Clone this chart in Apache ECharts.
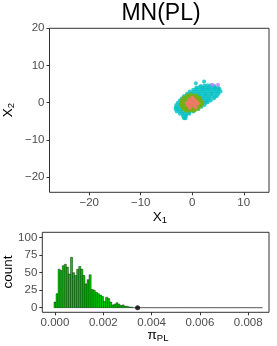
<!DOCTYPE html>
<html><head><meta charset="utf-8">
<script src="https://cdn.jsdelivr.net/npm/echarts@6/dist/echarts.min.js"></script>
<style>html,body{margin:0;padding:0;background:#fff}#c{width:277px;height:346px}</style>
</head><body><div id="c"></div>
<script>
// ---- scatter data (X1, X2) ----
const cyanPts = [
[2.3,5.7],[0.7,5.2],
[1.7,4.5],[2.4,4.6],[3.0,4.7],[3.6,4.7],[4.3,4.5],
[0.8,4.1],[1.4,4.2],[2.0,4.0],[2.6,4.1],[3.2,4.0],[3.8,4.1],[4.4,4.0],[5.0,4.1],
[0.2,3.5],[0.8,3.6],[1.4,3.5],[2.0,3.6],[2.6,3.5],[3.2,3.6],[3.8,3.5],[4.4,3.6],[5.0,3.5],[5.3,3.7],
[-0.5,3.0],[0.1,2.9],[0.7,3.0],[1.3,2.9],[1.9,3.0],[2.5,2.9],[3.1,3.0],[3.7,2.9],[4.3,3.0],[4.9,2.9],[5.5,3.0],
[-1.0,2.4],[-0.4,2.4],[0.2,2.3],[0.8,2.4],[1.4,2.3],[2.0,2.4],[2.6,2.3],[3.2,2.4],[3.8,2.3],[4.4,2.4],[5.1,2.4],
[-1.6,1.8],[-1.0,1.8],[-0.4,1.7],[0.2,1.8],[0.8,1.7],[1.4,1.8],[2.0,1.7],[2.6,1.8],[3.2,1.7],[3.8,1.8],[4.4,1.6],[4.8,1.8],
[-2.0,1.2],[-1.4,1.2],[-0.8,1.1],[-0.2,1.2],[0.4,1.1],[1.0,1.2],[1.6,1.1],[2.2,1.2],[2.8,1.1],[3.4,1.2],[4.2,1.1],
[-2.4,0.6],[-1.8,0.6],[-1.2,0.5],[-0.6,0.6],[0.0,0.5],[0.6,0.6],[1.2,0.5],[1.8,0.6],[2.4,0.5],[3.0,0.6],[3.6,0.6],
[-2.8,0.0],[-2.2,0.0],[-1.6,-0.1],[-1.0,0.0],[-0.4,-0.1],[0.2,0.0],[0.8,-0.1],[1.4,0.0],[2.0,-0.1],[2.6,0.0],[3.0,0.1],
[-3.1,-0.6],[-2.5,-0.6],[-1.9,-0.7],[-1.3,-0.6],[-0.7,-0.7],[-0.1,-0.6],[0.5,-0.7],[1.1,-0.6],[1.7,-0.7],[2.4,-0.6],
[-3.2,-1.2],[-2.6,-1.2],[-2.0,-1.3],[-1.4,-1.2],[-0.8,-1.3],[-0.2,-1.2],[0.4,-1.3],[1.0,-1.2],[1.8,-1.1],
[-3.2,-1.8],[-2.6,-1.8],[-2.0,-1.9],[-1.4,-1.8],[-0.8,-1.9],[-0.2,-1.8],[0.4,-1.9],[1.2,-1.7],
[-3.0,-2.4],[-2.4,-2.4],[-1.8,-2.5],[-1.2,-2.4],[-0.6,-2.5],[0.2,-2.4],
[-2.4,-3.0],[-1.8,-3.0],[-1.2,-3.1],[-0.6,-3.0],
[-1.8,-3.6],[-1.2,-3.6],
[-1.6,-4.2],[-1.3,-4.2]
];
const greenPts = [
[-1.0,2.0],[-0.4,2.1],[0.2,2.0],[0.8,1.9],
[-1.6,1.4],[-1.0,1.4],[-0.4,1.4],[0.2,1.4],[0.8,1.4],[1.4,1.3],
[-2.0,0.8],[-1.4,0.8],[-0.8,0.8],[-0.2,0.8],[0.4,0.8],[1.0,0.8],[1.6,0.8],
[-2.1,0.2],[-1.5,0.2],[-0.9,0.2],[-0.3,0.2],[0.3,0.2],[0.9,0.2],[1.5,0.2],[2.0,0.2],
[-2.2,-0.4],[-1.6,-0.4],[-1.0,-0.4],[-0.4,-0.4],[0.2,-0.4],[0.8,-0.4],[1.4,-0.4],[1.9,-0.4],
[-2.0,-1.0],[-1.4,-1.0],[-0.8,-1.0],[-0.2,-1.0],[0.4,-1.0],[1.0,-1.0],[1.6,-1.0],
[-1.8,-1.6],[-1.2,-1.6],[-0.6,-1.6],[0.0,-1.6],[0.6,-1.6],[1.1,-1.6],
[-1.2,-2.2],[-0.6,-2.2],[0.0,-2.2],[0.5,-2.1]
];
const salmonPts = [
[0.0,1.4],[0.2,0.9],[-0.6,0.8],[0.6,0.6],[-0.4,0.3],[0.2,0.2],[0.9,0.1],[-1.1,0.0],
[-0.6,-0.2],[0.0,-0.4],[0.6,-0.3],[1.1,-0.2],[-0.3,-0.9],[0.4,-0.9],[-0.9,-0.7],[0.7,-1.3],[-0.5,-1.4]
];
const purplePts = [[3.9,4.8],[5.0,4.8]];

// ---- histogram of pi_PL ----
const binWidth = 0.0000855;
const nBins = 101;
const binCounts = [8,20,55,53,60,62,58,48,72,50,46,55,59,55,46,34,40,47,26,25,22,20,18,16,9,15,13,8,4,5,7,5,3,4,2,2,1,1];
const truePoint = [[0.00342, 0]];

// ---- ticks ----
const xTicksTop = [-20,-10,0,10];
const yTicksTop = [-20,-10,0,10,20];
const xTicksBot = [0,0.002,0.004,0.006,0.008];
const yTicksBot = [0,25,50,75,100];

const histData = [];
for (let i = 0; i < nBins; i++) {
  const c = i < binCounts.length ? binCounts[i] : 0;
  histData.push([(i - 0.5) * binWidth, (i + 0.5) * binWidth, c]);
}

const fmtMinus = v => (v < 0 ? '\u2212' + (-v) : String(v));
const tickCol = '#333333', labCol = '#4D4D4D', FONT = 'Liberation Sans';

function axisCommon(vals, fmt, margin) {
  return {
    axisLine: {show: false, onZero: false},
    splitLine: {show: false},
    axisTick: {show: true, length: 3, inside: false, customValues: vals, lineStyle: {color: tickCol, width: 1}},
    axisLabel: {customValues: vals, formatter: fmt, color: labCol, fontSize: 11.5, fontFamily: FONT, margin: margin},
  };
}

const chart = echarts.init(document.getElementById('c'), null, {renderer: 'canvas'});
const scatterBase = {type: 'scatter', xAxisIndex: 0, yAxisIndex: 0, symbolSize: 4, silent: true, animation: false};

chart.setOption({
  animation: false,
  grid: [
    {left: 49.5, top: 28.3, width: 219.5, height: 164, show: true, borderColor: '#333333', borderWidth: 1, backgroundColor: '#fff'},
    {left: 42.3, top: 232.3, width: 226.7, height: 80, show: true, borderColor: '#333333', borderWidth: 1, backgroundColor: '#fff'}
  ],
  xAxis: [
    Object.assign({type: 'value', gridIndex: 0, min: -27.7, max: 14.9}, axisCommon(xTicksTop, fmtMinus, 5)),
    Object.assign({type: 'value', gridIndex: 1, min: -0.000526, max: 0.00886}, axisCommon(xTicksBot, v => v.toFixed(3), 5))
  ],
  yAxis: [
    Object.assign({type: 'value', gridIndex: 0, min: -24.1, max: 20.0}, axisCommon(yTicksTop, fmtMinus, 5)),
    Object.assign({type: 'value', gridIndex: 1, min: -6.6, max: 107.7}, axisCommon(yTicksBot, v => String(v), 5))
  ],
  series: [
    Object.assign({data: cyanPts, itemStyle: {color: '#00BFC4'}}, scatterBase),
    Object.assign({data: greenPts, itemStyle: {color: '#7CAE00'}}, scatterBase),
    Object.assign({data: salmonPts, itemStyle: {color: '#F8766D'}}, scatterBase),
    Object.assign({data: purplePts, itemStyle: {color: '#C77CFF'}}, scatterBase),
    {
      type: 'custom', xAxisIndex: 1, yAxisIndex: 1, data: histData, silent: true, clip: true,
      encode: {x: [0, 1], y: 2},
      renderItem: function (params, api) {
        const p0 = api.coord([api.value(0), api.value(2)]);
        const p1 = api.coord([api.value(1), 0]);
        return {
          type: 'rect',
          shape: {x: p0[0], y: p0[1], width: p1[0] - p0[0], height: p1[1] - p0[1]},
          style: {fill: '#00CC00', stroke: '#000', lineWidth: 0.4}
        };
      }
    },
    {type: 'scatter', xAxisIndex: 1, yAxisIndex: 1, data: truePoint, symbolSize: 5, itemStyle: {color: '#000'}, silent: true}
  ],
  graphic: [
    {type: 'text', x: 161, y: 13.5, style: {text: 'MN(PL)', font: '23px "Liberation Sans"', fill: '#000', align: 'center', verticalAlign: 'middle'}},
    {type: 'text', x: 160, y: 217, style: {
      text: '{a|X}{b|1}', align: 'center', verticalAlign: 'middle',
      rich: {a: {fontSize: 13.5, fontFamily: FONT, fill: '#000'}, b: {fontSize: 9.5, fontFamily: FONT, fill: '#000', padding: [7, 0, 0, 0]}}
    }},
    {type: 'text', x: 8, y: 110, rotation: Math.PI / 2, style: {
      text: '{a|X}{b|2}', align: 'center', verticalAlign: 'middle',
      rich: {a: {fontSize: 13.5, fontFamily: FONT, fill: '#000'}, b: {fontSize: 9.5, fontFamily: FONT, fill: '#000', padding: [7, 0, 0, 0]}}
    }},
    {type: 'text', x: 8, y: 272, rotation: Math.PI / 2, style: {text: 'count', font: '13.5px "Liberation Sans"', fill: '#000', align: 'center', verticalAlign: 'middle'}},
    {type: 'text', x: 158, y: 335, style: {
      text: '{a|\u03C0}{b|PL}', align: 'center', verticalAlign: 'middle',
      rich: {a: {fontSize: 13.5, fontFamily: FONT, fill: '#000'}, b: {fontSize: 9.5, fontFamily: FONT, fill: '#000', padding: [7, 0, 0, 0]}}
    }}
  ]
});
</script></body></html>
